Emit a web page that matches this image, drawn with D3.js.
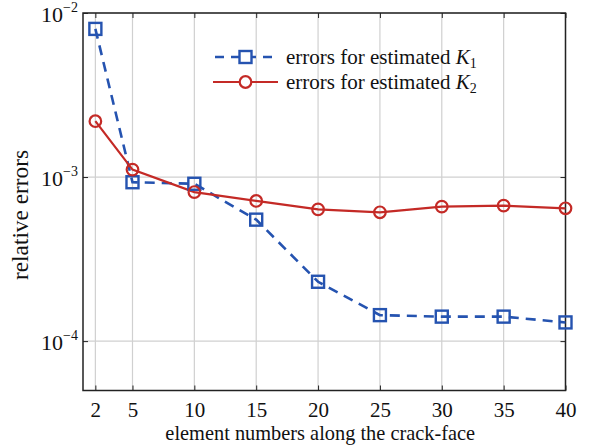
<!DOCTYPE html>
<html><head><meta charset="utf-8">
<script src="https://cdn.jsdelivr.net/npm/d3@7"></script>
<style>body{margin:0;background:#fff}svg{display:block}svg text,svg tspan{font-family:"Liberation Serif" !important}</style>
</head><body><svg id="c" width="589" height="446"></svg>
<script>
const xValues = [2,5,10,15,20,25,30,35,40];
const errorsK1 = [8.0e-3, 9.3e-4, 9.1e-4, 5.5e-4, 2.3e-4, 1.44e-4, 1.41e-4, 1.41e-4, 1.30e-4];
const errorsK2 = [2.19e-3, 1.11e-3, 8.1e-4, 7.15e-4, 6.35e-4, 6.1e-4, 6.6e-4, 6.7e-4, 6.45e-4];
const xTicks = [2,5,10,15,20,25,30,35,40];
const yTicks = [1e-2,1e-3,1e-4];
const yTickExp = ["\u22122","\u22123","\u22124"];
const legendLabels = ["errors for estimated ", "errors for estimated "];
const legendK = ["1","2"];

const FONT="Liberation Serif";
const L=83,R=565.5,T=13,B=390.5;
const blue="#2553b0", red="#c42a26";
const svg=d3.select("#c");
const x=d3.scaleLinear().domain([1,40]).range([L,R]);
const y=d3.scaleLog().domain([5e-5,1e-2]).range([B,T]);

function fit(sel, target){
  const fs=+sel.attr("font-size");
  const w=sel.node().getComputedTextLength();
  if(w>0) sel.attr("font-size",(fs*target/w).toFixed(2));
  return sel;
}

// grid
svg.append("g").selectAll("line").data(xTicks).join("line")
  .attr("x1",d=>x(d)).attr("x2",d=>x(d)).attr("y1",T).attr("y2",B)
  .attr("stroke","#d0d0d0").attr("stroke-width",1.2);
svg.append("g").selectAll("line").data(yTicks).join("line")
  .attr("y1",d=>y(d)).attr("y2",d=>y(d)).attr("x1",L).attr("x2",R)
  .attr("stroke","#d0d0d0").attr("stroke-width",1.2);

// axes with inward ticks
const gx=svg.append("g").attr("transform",`translate(0,${B})`)
  .call(d3.axisBottom(x).tickValues(xTicks).tickSizeInner(-5).tickSizeOuter(0).tickPadding(12));
gx.select(".domain").remove();
gx.attr("font-family",FONT).attr("font-size",21);
gx.selectAll("text").attr("font-size",21).attr("font-family",FONT).style("font-family",FONT).attr("fill","#111");
gx.selectAll("line").attr("stroke","#222");
const gxt=svg.append("g").attr("transform",`translate(0,${T})`)
  .call(d3.axisTop(x).tickValues(xTicks).tickSizeInner(-5).tickSizeOuter(0).tickFormat(""));
gxt.select(".domain").remove(); gxt.selectAll("line").attr("stroke","#222");
const gy=svg.append("g").attr("transform",`translate(${L},0)`)
  .call(d3.axisLeft(y).tickValues(yTicks).tickSizeInner(-5).tickSizeOuter(0).tickFormat(""));
gy.select(".domain").remove(); gy.selectAll("line").attr("stroke","#222");
const gyr=svg.append("g").attr("transform",`translate(${R},0)`)
  .call(d3.axisRight(y).tickValues(yTicks).tickSizeInner(-5).tickSizeOuter(0).tickFormat(""));
gyr.select(".domain").remove(); gyr.selectAll("line").attr("stroke","#222");

// y tick labels 10^-n
yTicks.forEach((v,i)=>{
  const t=svg.append("text").attr("x",L-5).attr("y",y(v)+9).attr("text-anchor","end")
    .attr("font-size",22).attr("font-family",FONT).style("font-family",FONT).attr("fill","#111");
  t.append("tspan").text("10");
  t.append("tspan").attr("font-size",14).attr("dy",-10).text(yTickExp[i]);
});

// frame
svg.append("rect").attr("x",L).attr("y",T).attr("width",R-L).attr("height",B-T)
  .attr("fill","none").attr("stroke","#222").attr("stroke-width",1.5);

// series
const line=d3.line().x((d,i)=>x(xValues[i])).y(d=>y(d));
svg.append("path").datum(errorsK1).attr("d",line).attr("fill","none")
  .attr("stroke",blue).attr("stroke-width",2.6).attr("stroke-dasharray","10,7");
svg.append("path").datum(errorsK2).attr("d",line).attr("fill","none")
  .attr("stroke",red).attr("stroke-width",2.2);
const sq=12;
svg.append("g").selectAll("rect").data(errorsK1).join("rect")
  .attr("x",(d,i)=>x(xValues[i])-sq/2).attr("y",d=>y(d)-sq/2).attr("width",sq).attr("height",sq)
  .attr("fill","none").attr("stroke",blue).attr("stroke-width",2.4);
svg.append("g").selectAll("circle").data(errorsK2).join("circle")
  .attr("cx",(d,i)=>x(xValues[i])).attr("cy",d=>y(d)).attr("r",5.8)
  .attr("fill","none").attr("stroke",red).attr("stroke-width",2.2);

// legend
const ly=[57,82];
svg.append("line").attr("x1",213).attr("x2",278).attr("y1",ly[0]).attr("y2",ly[0])
  .attr("stroke",blue).attr("stroke-width",2.6).attr("stroke-dasharray","9,7").attr("stroke-dashoffset",-2);
svg.append("rect").attr("x",245.5-sq/2).attr("y",ly[0]-sq/2).attr("width",sq).attr("height",sq)
  .attr("fill","#fff").attr("stroke",blue).attr("stroke-width",2.4);
svg.append("line").attr("x1",213).attr("x2",278).attr("y1",ly[1]).attr("y2",ly[1])
  .attr("stroke",red).attr("stroke-width",2.2);
svg.append("circle").attr("cx",245.5).attr("cy",ly[1]).attr("r",5.8)
  .attr("fill","#fff").attr("stroke",red).attr("stroke-width",2.2);
legendLabels.forEach((s,i)=>{
  const t=svg.append("text").attr("x",286).attr("y",ly[i]+7).attr("font-size",21)
    .attr("font-family",FONT).style("font-family",FONT).attr("fill","#111");
  t.append("tspan").text(s);
  t.append("tspan").attr("font-style","italic").text("K");
  t.append("tspan").attr("font-size",14).attr("dy",4).text(legendK[i]);
});

// axis titles
fit(svg.append("text").attr("x",(L+R)/2-4).attr("y",440).attr("text-anchor","middle").attr("font-size",20)
  .attr("font-family",FONT).style("font-family",FONT).attr("fill","#111").text("element numbers along the crack-face"),310);
fit(svg.append("text").attr("transform",`translate(28,215) rotate(-90)`).attr("text-anchor","middle")
  .attr("font-size",20).attr("font-family",FONT).style("font-family",FONT).attr("fill","#111").text("relative errors"),130);
</script></body></html>
